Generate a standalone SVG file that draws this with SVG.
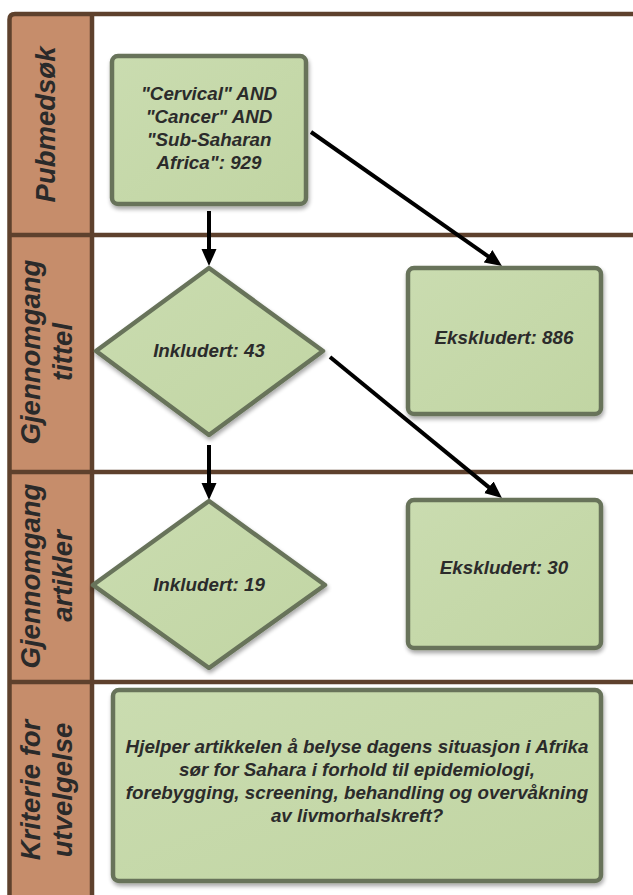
<svg xmlns="http://www.w3.org/2000/svg" width="633" height="895" viewBox="0 0 633 895">
  <defs>
    <linearGradient id="gfill" x1="0" y1="0" x2="1" y2="1">
      <stop offset="0" stop-color="#cadcb0"/>
      <stop offset="1" stop-color="#c1d5a3"/>
    </linearGradient>
    <filter id="shadow" x="-10%" y="-10%" width="130%" height="130%">
      <feGaussianBlur in="SourceAlpha" stdDeviation="2"/>
      <feOffset dx="1" dy="3" result="b"/>
      <feComponentTransfer><feFuncA type="linear" slope="0.35"/></feComponentTransfer>
      <feMerge><feMergeNode/><feMergeNode in="SourceGraphic"/></feMerge>
    </filter>
    <marker id="arrow" markerUnits="userSpaceOnUse" markerWidth="18" markerHeight="16" refX="1" refY="7.5" orient="auto">
      <path d="M0,0 L17,7.5 L0,15 z" fill="#000"/>
    </marker>
  </defs>
  <style>
    .lane { stroke: #5e412d; stroke-width: 4.5; fill: none; }
    .hdr { fill: #c68d6b; }
    .htxt { font-family: "Liberation Sans", Arial, sans-serif; font-weight: bold; font-style: italic; font-size: 27.5px; fill: #2a2a2a; text-anchor: middle; }
    .node { fill: url(#gfill); stroke: #67735a; stroke-width: 4.5; stroke-linejoin: round; filter: url(#shadow); }
    .ntxt { font-family: "Liberation Sans", Arial, sans-serif; font-weight: bold; font-style: italic; font-size: 18.8px; fill: #2b2b2b; text-anchor: middle; }
    .conn { stroke: #000; stroke-width: 4; fill: none; marker-end: url(#arrow); }
  </style>
  <rect width="633" height="895" fill="#ffffff"/>

  <g id="pool">
    <rect class="hdr" x="9.5" y="14" width="82.5" height="881"/>
    <path class="lane" d="M633,14 H15 Q9.5,14 9.5,19.5 V895"/>
    <path class="lane" d="M92,14 V895"/>
    <path class="lane" d="M9.5,235 H633"/>
    <path class="lane" d="M9.5,472 H633"/>
    <path class="lane" d="M9.5,682 H633"/>
  </g>

  <g id="lane-pubmed">
    <text class="htxt" transform="translate(55,124.5) rotate(-90)">Pubmedsøk</text>
  </g>
  <g id="lane-tittel">
    <text class="htxt" transform="translate(40,352) rotate(-90)">Gjennomgang</text>
    <text class="htxt" transform="translate(72,352) rotate(-90)">tittel</text>
  </g>
  <g id="lane-artikler">
    <text class="htxt" transform="translate(40,576) rotate(-90)">Gjennomgang</text>
    <text class="htxt" transform="translate(72,576) rotate(-90)">artikler</text>
  </g>
  <g id="lane-kriterie">
    <text class="htxt" transform="translate(40,790) rotate(-90)">Kriterie for</text>
    <text class="htxt" transform="translate(72,790) rotate(-90)">utvelgelse</text>
  </g>

  <g id="connectors">
    <line class="conn" x1="209" y1="211" x2="209" y2="250"/>
    <line class="conn" x1="311" y1="132" x2="488.9" y2="256.8"/>
    <line class="conn" x1="209" y1="445" x2="209" y2="484"/>
    <line class="conn" x1="330" y1="357" x2="489.6" y2="487.9"/>
  </g>

  <g id="n-search">
    <rect class="node" x="112" y="56" width="194" height="148" rx="6"/>
    <text class="ntxt" x="209" y="99.5">"Cervical" AND</text>
    <text class="ntxt" x="209" y="122.5">"Cancer" AND</text>
    <text class="ntxt" x="209" y="145.5">"Sub-Saharan</text>
    <text class="ntxt" x="209" y="168.5">Africa": 929</text>
  </g>

  <g id="n-inkl43">
    <path class="node" d="M209,268 L323,351 L209,435 L96,351 Z"/>
    <text class="ntxt" x="209" y="357">Inkludert: 43</text>
  </g>

  <g id="n-eks886">
    <rect class="node" x="408" y="268" width="193" height="146" rx="6"/>
    <text class="ntxt" x="504" y="344">Ekskludert: 886</text>
  </g>

  <g id="n-inkl19">
    <path class="node" d="M209,501 L325,585 L209,668 L93,585 Z"/>
    <text class="ntxt" x="209" y="591">Inkludert: 19</text>
  </g>

  <g id="n-eks30">
    <rect class="node" x="408" y="500" width="193" height="148" rx="6"/>
    <text class="ntxt" x="504" y="574">Ekskludert: 30</text>
  </g>

  <g id="n-kriterie">
    <rect class="node" x="113" y="690" width="488" height="191" rx="6"/>
    <text class="ntxt" x="357" y="753">Hjelper artikkelen å belyse dagens situasjon i Afrika</text>
    <text class="ntxt" x="357" y="776">sør for Sahara i forhold til epidemiologi,</text>
    <text class="ntxt" x="357" y="799">forebygging, screening, behandling og overvåkning</text>
    <text class="ntxt" x="357" y="822">av livmorhalskreft?</text>
  </g>
</svg>
